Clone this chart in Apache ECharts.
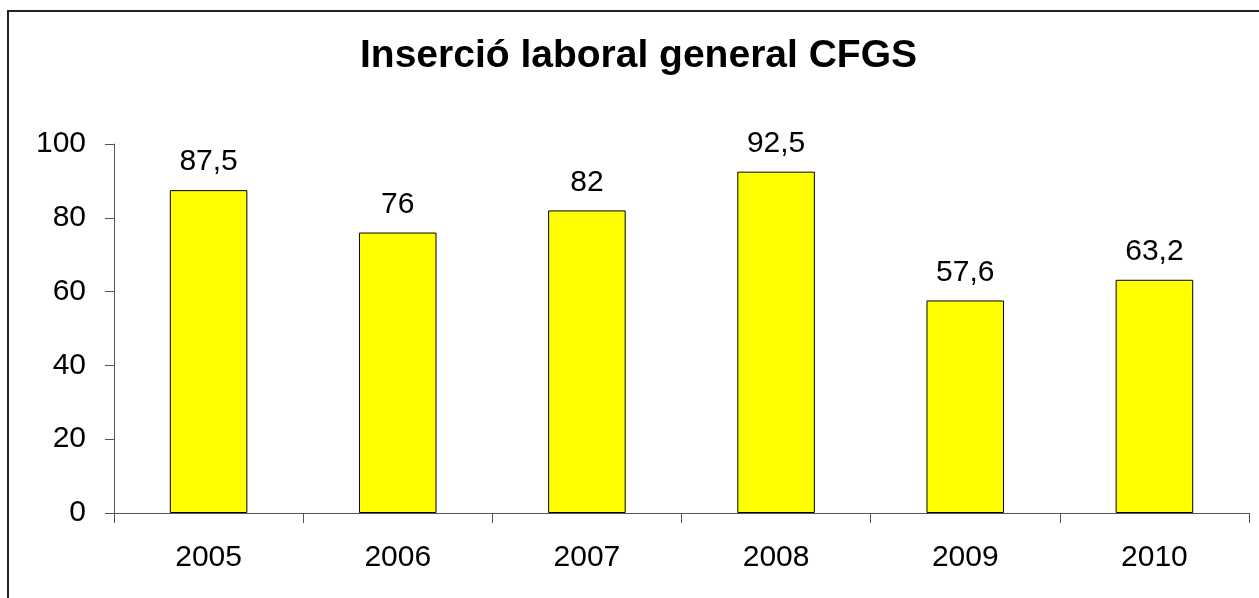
<!DOCTYPE html>
<html><head><meta charset="utf-8">
<script src="https://cdn.jsdelivr.net/npm/echarts@6/dist/echarts.min.js"></script>
<style>html,body{margin:0;padding:0;background:#fff}#c{width:1259px;height:598px}</style>
</head><body><div id="c"></div>
<script>
const titleText = 'Inserció laboral general CFGS';
const categories = ['2005','2006','2007','2008','2009','2010'];
const values = [87.5, 76, 82, 92.5, 57.6, 63.2];
const yTicks = [0, 20, 40, 60, 80, 100];

const FONT = '"Liberation Sans", Arial, sans-serif';
const chart = echarts.init(document.getElementById('c'), null, {renderer:'canvas'});
chart.setOption({
  backgroundColor: '#fff',
  animation: false,
  title: {
    text: titleText, left: 360, top: 37, padding: 0,
    textStyle: {fontFamily: FONT, fontSize: 39, fontWeight: 'bold', color: '#000'}
  },
  graphic: [{
    type: 'rect', shape: {x: 8, y: 11, width: 2000, height: 2000},
    style: {fill: 'none', stroke: '#222', lineWidth: 2}, silent: true, z: 100
  }],
  grid: {left: 114, right: 10, top: 144, bottom: 85},
  xAxis: {
    type: 'category', data: categories,
    axisLine: {lineStyle: {color: '#555', width: 1}},
    axisTick: {show: true, length: 10, lineStyle: {color: '#555'}},
    axisLabel: {margin: 30, fontFamily: FONT, fontSize: 30, color: '#000'}
  },
  yAxis: {
    type: 'value', min: yTicks[0], max: yTicks[yTicks.length-1], interval: 20,
    splitLine: {show: false},
    axisLine: {show: true, lineStyle: {color: '#555', width: 1}},
    axisTick: {show: true, length: 9, lineStyle: {color: '#555'}},
    axisLabel: {margin: 28, fontFamily: FONT, fontSize: 30, color: '#000'}
  },
  series: [{
    type: 'bar', data: values, barWidth: '41%',
    itemStyle: {color: '#FFFF00', borderColor: '#000', borderWidth: 1},
    label: {
      show: true, position: 'top', distance: 13,
      fontFamily: FONT, fontSize: 30, color: '#000',
      formatter: p => String(p.value).replace('.', ',')
    }
  }]
});
</script></body></html>
